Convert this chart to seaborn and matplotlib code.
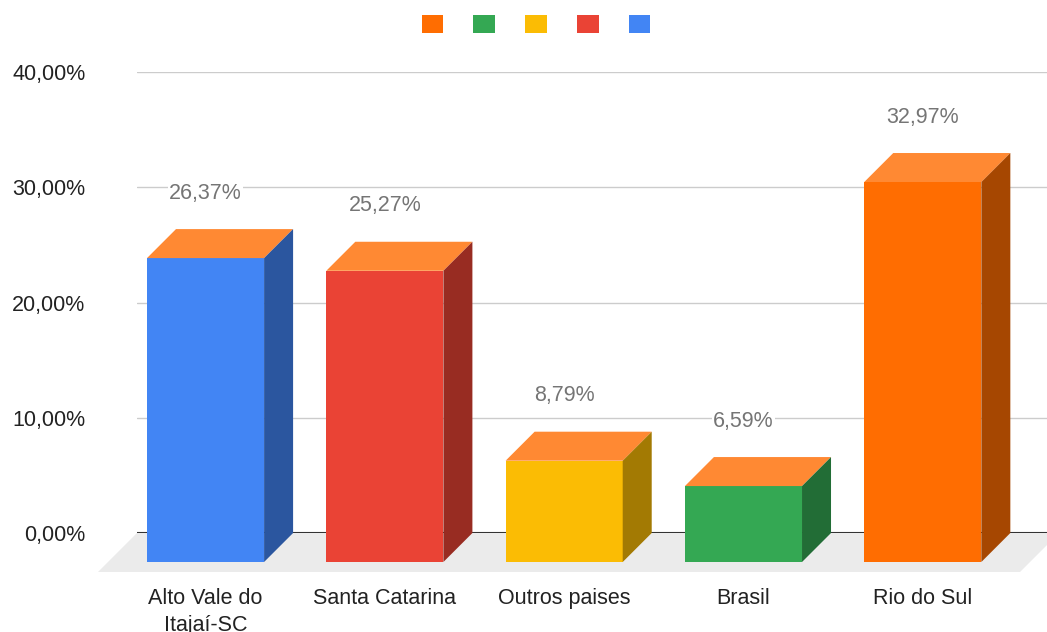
import numpy as np
import pandas as pd
import matplotlib
matplotlib.use("Agg")
import matplotlib.pyplot as plt
import matplotlib.colors as mcolors
from matplotlib.patches import Polygon, Patch
import seaborn as sns

# data
categories = ["Alto Vale do\nItajaí-SC", "Santa Catarina", "Outros paises", "Brasil", "Rio do Sul"]
values = [26.37, 25.27, 8.79, 6.59, 32.97]
value_labels = ["26,37%", "25,27%", "8,79%", "6,59%", "32,97%"]
front_colors = ["#4285F4", "#EA4335", "#FBBC04", "#34A853", "#FF6D01"]
top_color = "#FF8933"
y_ticks = [0, 10, 20, 30, 40]
y_tick_labels = ["0,00%", "10,00%", "20,00%", "30,00%", "40,00%"]

sns.set_style("white")
plt.rcParams["font.family"] = ["Liberation Sans", "DejaVu Sans"]

df = pd.DataFrame({"cat": categories, "val": values})

fig = plt.figure(figsize=(10.47, 6.32), dpi=100)
ax = fig.add_axes([137 / 1047, 99 / 632, 910 / 1047, 461 / 632])

sns.barplot(data=df, x="cat", y="val", hue="cat", palette=front_colors,
            saturation=1, width=0.653, legend=False, ax=ax, zorder=3)

ax.set_ylim(0, 40)
ax.set_xlim(-0.544, 4.531)

# pixel offsets of the fake 3D depth converted to data units
inv = ax.transData.inverted()
p0 = inv.transform((0, 0))
p1 = inv.transform((29, 29))
p2 = inv.transform((39, 39))
p3 = inv.transform((12, 0))
dx, dy = p1 - p0
fdx, fdy = p2 - p0
extra = (p3 - p0)[0]

# floor
xl, xr = ax.get_xlim()
floor = Polygon([(xl, 0), (xr + extra, 0), (xr + extra - fdx, -fdy), (xl - fdx, -fdy)],
                closed=True, fc="#ebebeb", ec="none", zorder=1, clip_on=False)
ax.add_patch(floor)

ax.set_yticks(y_ticks, y_tick_labels)
ax.yaxis.grid(True, color="#cccccc", lw=1)
ax.set_axisbelow(True)
ax.axhline(0, color="#333333", lw=1.5, zorder=2)
ax.tick_params(axis="y", length=0, pad=37, labelsize=15.5, labelcolor="#222222")
ax.set_xticks([])
ax.set_xlabel("")
ax.set_ylabel("")
for s in ax.spines.values():
    s.set_visible(False)

bars = [b for b in ax.patches if b is not floor]
for i, b in enumerate(bars):
    x0, w, h = b.get_x(), b.get_width(), b.get_height()
    col = np.array(mcolors.to_rgb(b.get_facecolor()))
    side = tuple(col * 0.65)
    # front face moved forward
    b.set_x(x0 - dx)
    b.set_y(-dy)
    b.set_clip_on(False)
    b.set_edgecolor("none")
    # top face
    ax.add_patch(Polygon([(x0, h), (x0 + w, h), (x0 + w - dx, h - dy), (x0 - dx, h - dy)],
                         closed=True, fc=top_color, ec="none", zorder=3, clip_on=False))
    # side face
    ax.add_patch(Polygon([(x0 + w, 0), (x0 + w, h), (x0 + w - dx, h - dy), (x0 + w - dx, -dy)],
                         closed=True, fc=side, ec="none", zorder=3, clip_on=False))
    xc = x0 + w / 2
    ax.annotate(value_labels[i], xy=(xc, h), xytext=(-29, 36), textcoords="offset pixels",
                ha="center", va="center", fontsize=15.5, color="#757575",
                bbox=dict(fc="white", ec="none", pad=1), zorder=4)
    ax.annotate(categories[i], xy=(xc, 0), xytext=(-29, -55), textcoords="offset pixels",
                ha="center", va="top", fontsize=15.5, color="#222222",
                linespacing=1.35, annotation_clip=False)

handles = [Patch(fc=c, ec="none") for c in front_colors[::-1]]
fig.legend(handles, [""] * len(handles), loc="center", bbox_to_anchor=(536 / 1047, 1 - 24 / 632),
           ncol=5, frameon=False, handlelength=1.5, handleheight=1.5, handletextpad=0,
           columnspacing=2.05, fontsize=10.5)

fig.savefig("out.png", dpi=100)
